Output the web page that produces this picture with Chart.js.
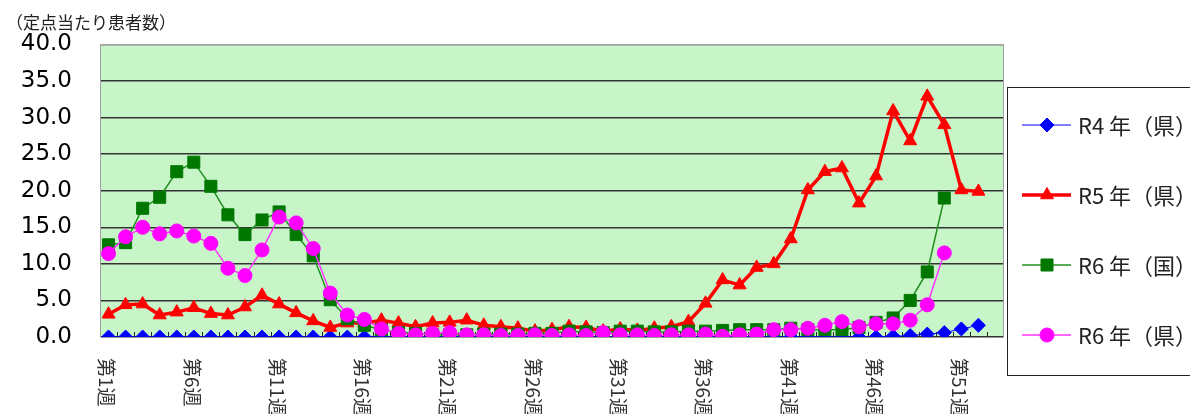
<!DOCTYPE html>
<html lang="ja">
<head>
<meta charset="utf-8">
<title>定点当たり患者数</title>
<style>
  html, body { margin: 0; padding: 0; background: #fff; }
  #wrap { width: 1190px; height: 414px; }
</style>
</head>
<body>
<div id="wrap"><canvas id="line-chart"></canvas></div>

<script src="https://cdn.jsdelivr.net/npm/chart.js@4.4.1/dist/chart.umd.min.js"></script>
<script>
// 第1週〜第53週
const weeks = Array.from({ length: 53 }, (_, i) => '第' + (i + 1) + '週');

const r4Ken = [
  0.0, 0.0, 0.0, 0.0, 0.0, 0.0, 0.0, 0.0, 0.0, 0.0,
  0.0, 0.0, 0.0, 0.0, 0.0, 0.0, 0.0, 0.0, 0.0, 0.0,
  0.0, 0.0, 0.0, 0.0, 0.0, 0.0, 0.0, 0.0, 0.0, 0.0,
  0.0, 0.0, 0.0, 0.0, 0.0, 0.0, 0.0, 0.0, 0.0, 0.0,
  0.0, 0.0, 0.0, 0.0, 0.0, 0.0, 0.1, 0.2, 0.4, 0.6,
  1.1, 1.6
];
const r5Ken = [
  3.1, 4.4, 4.5, 3.0, 3.4, 4.0, 3.2, 3.0, 4.1, 5.7,
  4.5, 3.3, 2.2, 1.3, 1.9, 1.9, 2.3, 1.9, 1.4, 1.9,
  2.0, 2.3, 1.6, 1.4, 1.2, 0.8, 1.0, 1.4, 1.3, 0.8,
  1.1, 0.9, 1.2, 1.4, 2.1, 4.6, 7.8, 7.1, 9.5, 10.0,
  13.4, 20.1, 22.6, 23.1, 18.3, 22.0, 30.9, 26.8, 32.9, 29.0,
  20.1, 19.9
];
const r6Kuni = [
  12.6, 12.9, 17.6, 19.1, 22.6, 23.9, 20.6, 16.7, 14.0, 16.0,
  17.1, 14.0, 11.1, 5.1, 2.5, 1.6, 1.0, 0.6, 0.5, 0.3,
  0.3, 0.3, 0.4, 0.4, 0.4, 0.5, 0.5, 0.8, 0.7, 0.6,
  0.8, 0.8, 0.7, 0.7, 0.8, 0.8, 0.9, 1.0, 1.0, 1.0,
  1.2, 1.0, 1.0, 1.0, 1.3, 2.0, 2.6, 5.0, 8.9, 19.0
];
const r6Ken = [
  11.4, 13.7, 15.0, 14.1, 14.5, 13.8, 12.8, 9.4, 8.4, 11.9,
  16.4, 15.6, 12.1, 6.0, 3.0, 2.4, 1.1, 0.5, 0.3, 0.5,
  0.6, 0.3, 0.3, 0.2, 0.2, 0.3, 0.2, 0.3, 0.2, 0.6,
  0.3, 0.3, 0.2, 0.3, 0.3, 0.4, 0.1, 0.3, 0.4, 1.0,
  1.0, 1.2, 1.6, 2.1, 1.4, 1.8, 1.8, 2.3, 4.4, 11.5
];
const seriesNames = ['R4 年（県）', 'R5 年（県）', 'R6 年（国）', 'R6 年（県）'];
const yTicks = [0, 5, 10, 15, 20, 25, 30, 35, 40];

const JP = '"Noto Sans CJK JP", "Noto Sans", sans-serif';

// 背景・枠・目盛り・軸ラベル・凡例
const frame = {
  id: 'frame',
  beforeDraw(chart) {
    const { ctx, chartArea: a } = chart;
    ctx.save();
    ctx.fillStyle = '#c8f5c8';
    ctx.fillRect(a.left, a.top, a.right - a.left, a.bottom - a.top);
    ctx.restore();
  },
  beforeDatasetsDraw(chart) {
    const { ctx, chartArea: a, scales } = chart;
    const x = scales.x;
    ctx.save();
    ctx.strokeStyle = '#a0a0a0';
    ctx.lineWidth = 1;
    ctx.beginPath();
    ctx.moveTo(a.left + 0.5, a.bottom);
    ctx.lineTo(a.left + 0.5, a.top + 0.5);
    ctx.lineTo(a.right - 0.5, a.top + 0.5);
    ctx.lineTo(a.right - 0.5, a.bottom);
    ctx.stroke();
    // 内向きの目盛り
    ctx.strokeStyle = '#222';
    const n = weeks.length;
    const w = (x.right - x.left) / n;
    ctx.beginPath();
    for (let i = 1; i < n; i++) {
      const px = Math.round(x.left + i * w) + 0.5;
      ctx.moveTo(px, a.bottom);
      ctx.lineTo(px, a.bottom - 5);
    }
    ctx.stroke();
    ctx.restore();
  },
  afterDraw(chart) {
    const { ctx, scales } = chart;
    const x = scales.x;
    ctx.save();
    // 週ラベル（90度回転）
    ctx.fillStyle = '#333';
    ctx.font = '19px ' + JP;
    ctx.textAlign = 'left';
    ctx.textBaseline = 'middle';
    weeks.forEach((lab, i) => {
      if (i % 5 !== 0) return;
      ctx.save();
      ctx.translate(x.getPixelForValue(i) - 2, x.top + 21);
      ctx.rotate(Math.PI / 2);
      ctx.fillText(lab, 0, 0);
      ctx.restore();
    });

    // 凡例
    const bx = 1007, by = 87, bh = 288;
    ctx.strokeStyle = '#222';
    ctx.lineWidth = 1;
    ctx.strokeRect(bx + 0.5, by + 0.5, 400, bh);
    ctx.font = '22px ' + JP;
    chart.data.datasets.forEach((ds, i) => {
      const y = by + 38 + i * 70;
      ctx.strokeStyle = ds.borderColor;
      ctx.lineWidth = ds.borderWidth;
      ctx.beginPath();
      ctx.moveTo(bx + 15, y);
      ctx.lineTo(bx + 64, y);
      ctx.stroke();
      ctx.fillStyle = ds.pointBackgroundColor;
      ctx.strokeStyle = ds.pointBorderColor;
      ctx.lineWidth = 1;
      Chart.helpers.drawPoint(ctx, { pointStyle: ds.pointStyle, radius: ds.pointRadius, rotation: 0, borderWidth: 1 }, bx + 40, y);
      ctx.fillStyle = '#222';
      ctx.textAlign = 'left';
      ctx.textBaseline = 'middle';
      ctx.fillText(ds.label, bx + 71, y + 1);
    });
    ctx.restore();
  }
};

function mkSet(label, data, color, lineColor, width, style, radius, order) {
  return {
    label: label,
    data: data,
    borderColor: lineColor,
    borderWidth: width,
    pointStyle: style,
    pointRadius: radius,
    pointHoverRadius: radius,
    pointBackgroundColor: color,
    pointBorderColor: color,
    pointBorderWidth: 1,
    tension: 0,
    fill: false,
    order: order
  };
}

new Chart(document.getElementById('line-chart'), {
  type: 'line',
  data: {
    labels: weeks,
    datasets: [
      mkSet(seriesNames[0], r4Ken, '#0000ff', '#0000ff', 1, 'rectRot', 7, 4),
      mkSet(seriesNames[1], r5Ken, '#ff0000', '#ff0000', 3.5, 'triangle', 7.5, 3),
      mkSet(seriesNames[2], r6Kuni, '#007800', '#1f8f1f', 1.5, 'rect', 8.5, 2),
      mkSet(seriesNames[3], r6Ken, '#ff00ff', '#ff33ff', 1.5, 'circle', 7, 1)
    ]
  },
  options: {
    responsive: true,
    maintainAspectRatio: false,
    animation: false,
    layout: { padding: { left: 6, right: 186, top: 0, bottom: 0 } },
    plugins: {
      legend: { display: false },
      tooltip: { enabled: false },
      title: {
        display: true,
        text: '（定点当たり患者数）',
        align: 'start',
        color: '#222',
        font: { family: JP, size: 17, weight: 'normal' },
        padding: { top: 12, bottom: 12 }
      }
    },
    scales: {
      x: {
        type: 'category',
        offset: true,
        grid: { display: false },
        border: { display: false },
        ticks: { display: false },
        afterFit(scale) { scale.height = 77; }
      },
      y: {
        min: 0,
        max: 40,
        afterBuildTicks(scale) { scale.ticks = yTicks.map(v => ({ value: v })); },
        ticks: {
          color: '#000',
          padding: 28,
          font: { family: '"DejaVu Sans", sans-serif', size: 23 },
          callback: v => v.toFixed(1)
        },
        grid: {
          drawTicks: false,
          lineWidth: 1.5,
          color: c => (c.tick && c.tick.value === 40) ? '#a0a0a0' : '#333'
        },
        border: { display: true, color: '#a0a0a0', width: 1 },
        afterFit(scale) { scale.width = 94; }
      }
    }
  },
  plugins: [frame]
});
</script>
</body>
</html>
